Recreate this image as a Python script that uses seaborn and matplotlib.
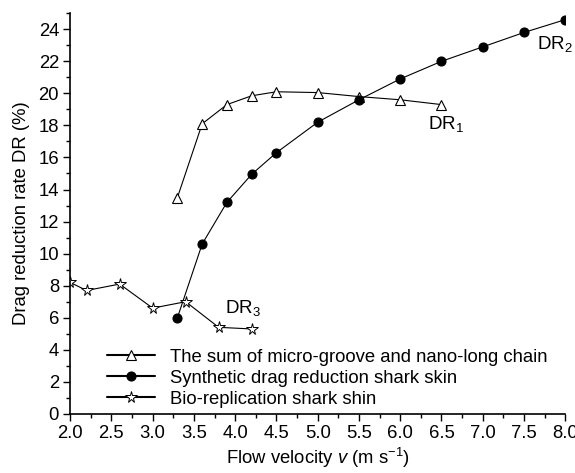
import matplotlib
matplotlib.use("Agg")
import matplotlib.pyplot as plt
import seaborn as sns
from matplotlib.lines import Line2D
from matplotlib.ticker import MultipleLocator

# Data
x_dr1 = [3.3, 3.6, 3.9, 4.2, 4.5, 5.0, 5.5, 6.0, 6.5]
y_dr1 = [13.5, 18.1, 19.3, 19.85, 20.1, 20.05, 19.8, 19.6, 19.3]
x_dr2 = [3.3, 3.6, 3.9, 4.2, 4.5, 5.0, 5.5, 6.0, 6.5, 7.0, 7.5, 8.0]
y_dr2 = [6.0, 10.6, 13.2, 14.95, 16.3, 18.2, 19.6, 20.9, 22.0, 22.9, 23.8, 24.6]
x_dr3 = [2.0, 2.2, 2.6, 3.0, 3.4, 3.8, 4.2]
y_dr3 = [8.2, 7.7, 8.1, 6.6, 7.0, 5.4, 5.3]
labels = ["The sum of micro-groove and nano-long chain",
          "Synthetic drag reduction shark skin",
          "Bio-replication shark shin"]

sns.set_theme(style="ticks")
plt.rcParams['font.family'] = ['Liberation Sans', 'DejaVu Sans']
plt.rcParams['mathtext.fontset'] = 'custom'
plt.rcParams['mathtext.rm'] = 'Liberation Sans'
plt.rcParams['mathtext.it'] = 'Liberation Sans:italic'
plt.rcParams['text.color'] = 'black'
plt.rcParams['axes.labelcolor'] = 'black'

fig = plt.figure(figsize=(5.75, 4.73), dpi=100)
ax = fig.add_axes([0.122, 0.125, 0.861, 0.847])

lw = 0.8
styles = [
    dict(marker='^', markersize=7, markerfacecolor='white', markeredgecolor='black', markeredgewidth=0.8),
    dict(marker='o', markersize=6.5, markerfacecolor='black', markeredgecolor='black', markeredgewidth=0.8),
    dict(marker='*', markersize=8.5, markerfacecolor='white', markeredgecolor='black', markeredgewidth=0.7),
]
for (xs, ys), st in zip([(x_dr1, y_dr1), (x_dr2, y_dr2), (x_dr3, y_dr3)], styles):
    sns.lineplot(x=xs, y=ys, ax=ax, color='black', lw=lw, legend=False, **st)

ax.set_xlim(2.0, 8.0)
ax.set_ylim(0, 25)
ax.xaxis.set_major_locator(MultipleLocator(0.5))
ax.xaxis.set_minor_locator(MultipleLocator(0.25))
ax.yaxis.set_major_locator(MultipleLocator(2))
ax.yaxis.set_minor_locator(MultipleLocator(1))
ax.set_xticks(ax.get_xticks())
ax.set_xticklabels([f"{v:.1f}" for v in ax.get_xticks()])
ax.set_xlim(2.0, 8.0)
ax.tick_params(which='major', direction='out', length=5, width=1, labelsize=13.3,
               color='black', labelcolor='black', pad=3)
ax.tick_params(which='minor', direction='out', length=3, width=1, color='black')
for s in ['top', 'right']:
    ax.spines[s].set_visible(False)
for s in ['left', 'bottom']:
    ax.spines[s].set_color('black')
    ax.spines[s].set_linewidth(1.2)

ax.set_xlabel(r"Flow velocity $v$ (m s$^{-1}$)", fontsize=13.3, color='black', labelpad=3)
ax.set_ylabel("Drag reduction rate DR (%)", fontsize=13.3, color='black', labelpad=6)

ax.text(6.34, 18.1, r"DR$_1$", fontsize=13.5, va='center', ha='left', color='black')
ax.text(7.66, 23.1, r"DR$_2$", fontsize=13.5, va='center', ha='left', color='black')
ax.text(3.88, 6.6, r"DR$_3$", fontsize=13.5, va='center', ha='left', color='black')

handles = [Line2D([0], [0], color='black', lw=1.5, **st) for st in styles]
leg = ax.legend(handles, labels, loc='upper left', bbox_to_anchor=(0.075, 0.163), frameon=False,
                fontsize=13.3, handlelength=2.6, handletextpad=0.8, numpoints=1,
                labelspacing=0.22, borderpad=0, borderaxespad=0, labelcolor='black')

fig.savefig("out.png", dpi=100)
